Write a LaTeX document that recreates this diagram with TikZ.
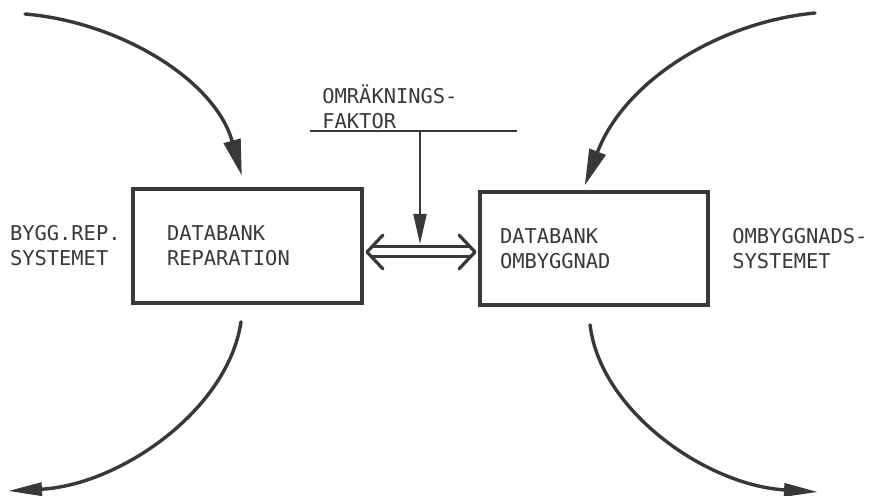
\documentclass[tikz,border=0pt]{standalone}
\usepackage{fontspec}
\setmonofont{DejaVu Sans Mono}
\usepackage{tikz}
\usetikzlibrary{calc,arrows.meta,positioning}
\definecolor{ink}{gray}{0.22}

\begin{document}
\begin{tikzpicture}[x=0.5pt, y=-0.5pt, >={Triangle[length=18pt, width=8.5pt]}, color=ink, every node/.style={font=\ttfamily\fontsize{10.2}{12.5}\selectfont, text=ink}]
    % Define styles for the data banks, the side labels and the curved flows
    \tikzstyle{bank} = [draw, rectangle, line width=2pt, align=left, inner ysep=0pt]
    \tikzstyle{side} = [align=left, inner sep=0pt]
    \tikzstyle{flow} = [line width=1.7pt, line cap=round]
    \tikzstyle{outflow} = [flow, >={Triangle[length=17pt, width=6.5pt]}]
    \tikzstyle{chevron} = [line width=1.6pt, line cap=round, line join=round]

    \useasboundingbox (0,0) rectangle (874,496);

    % Data banks
    \node [bank, minimum width=114.5pt, minimum height=57pt, text width=80.5pt, inner xsep=17pt] (rep) at (247.5,246) {DATABANK\\REPARATION};
    \node [bank, minimum width=114pt, minimum height=56.5pt, text width=94pt, inner xsep=10pt] (omb) at (594,248.5) {DATABANK\\OMBYGGNAD};

    % Systems beside the banks
    \node [side, left=5pt of rep] (bygg) {BYGG.REP.\\SYSTEMET};
    \node [side, right=11pt of omb] (ombsys) {OMBYGGNADS-\\SYSTEMET};

    % Conversion factor
    \node [side, anchor=south west] (faktor) at (322,129) {OMRÄKNINGS-\\FAKTOR};
    \coordinate (barL) at (310,131);
    \coordinate (barR) at (517,131);
    \coordinate (dbl) at (420,252);
    \draw [line width=1.3pt] (barL) -- (barR);
    \draw [line width=1pt, ->, >={Triangle[length=15pt, width=6.5pt]}] (barL -| dbl) -- ($(dbl)+(0,-8)$);

    % Exchange between the banks
    \coordinate (dblL) at ($(rep.east |- dbl)+(3,0)$);
    \coordinate (dblR) at ($(omb.west |- dbl)+(-3,0)$);
    \draw [double, double distance=3.5pt, line width=1.5pt, shorten <=2pt, shorten >=2pt] (dblL) -- (dblR);
    \draw [chevron] ($(dblL)+(16,-17)$) -- (dblL) -- ($(dblL)+(16,17)$);
    \draw [chevron] ($(dblR)+(-16,-17)$) -- (dblR) -- ($(dblR)+(-16,17)$);

    % Flows in and out
    \coordinate (tlS) at (25,14);
    \coordinate (trS) at (815,13);
    \coordinate (blE) at (8,491);
    \coordinate (brE) at (818,492);
    \draw [flow, ->, shorten >=6pt] (tlS) .. controls (120,22) and (215,80) .. ([xshift=-1.25pt]rep.north);
    \draw [flow, ->, shorten >=2.5pt] (trS) .. controls (720,22) and (625,80) .. ([xshift=-5.5pt]omb.north);
    \draw [outflow, ->, shorten <=8.5pt] ([xshift=-2pt]rep.south) .. controls (228,410) and (120,485) .. (blE);
    \draw [outflow, ->, shorten <=9pt] ([xshift=-3pt]omb.south) .. controls (600,410) and (705,485) .. (brE);
\end{tikzpicture}
\end{document}
